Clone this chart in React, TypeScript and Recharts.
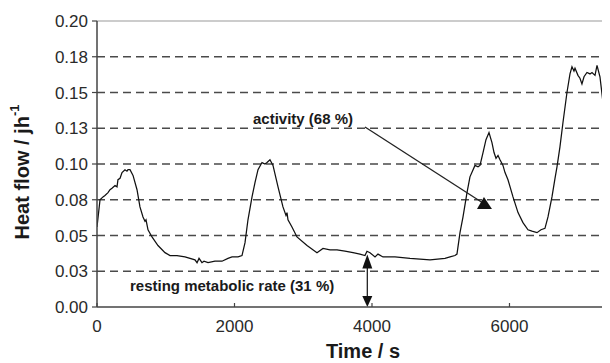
import React from "react";
import { LineChart, Line, XAxis, YAxis, ReferenceLine, ReferenceDot } from "recharts";

const times = [0,44,87,116,160,189,218,262,291,305,335,364,407,436,451,480,524,582,625,669,698,713,742,800,887,989,1062,1164,1280,1425,1455,1484,1527,1556,1615,1716,1818,1905,1964,2051,2109,2153,2196,2255,2298,2342,2400,2444,2473,2516,2560,2633,2705,2749,2764,2778,2836,2909,3055,3200,3287,3389,3491,3607,3724,3825,3898,3927,3971,4044,4087,4160,4335,4553,4844,5062,5135,5207,5236,5280,5324,5382,5425,5498,5542,5571,5615,5658,5702,5745,5775,5804,5833,5862,5905,5935,5978,6051,6124,6196,6269,6327,6400,6458,6516,6560,6618,6662,6691,6734,6778,6836,6880,6909,6938,6953,6996,7025,7054,7084,7127,7171,7200,7244,7273,7316,7360,7404,7433,7462];
const heatFlow = [0.056,0.075,0.077,0.078,0.080,0.082,0.083,0.085,0.084,0.089,0.090,0.094,0.096,0.095,0.096,0.096,0.092,0.082,0.070,0.063,0.060,0.061,0.054,0.049,0.043,0.038,0.036,0.036,0.035,0.033,0.031,0.034,0.031,0.032,0.031,0.032,0.032,0.034,0.035,0.035,0.036,0.045,0.061,0.077,0.087,0.096,0.101,0.100,0.101,0.103,0.099,0.084,0.070,0.064,0.066,0.061,0.056,0.049,0.043,0.038,0.041,0.040,0.040,0.039,0.038,0.037,0.036,0.039,0.038,0.035,0.037,0.035,0.035,0.034,0.033,0.034,0.035,0.036,0.037,0.052,0.063,0.080,0.091,0.099,0.098,0.099,0.108,0.117,0.122,0.115,0.108,0.104,0.106,0.103,0.099,0.094,0.089,0.077,0.066,0.059,0.054,0.053,0.052,0.054,0.055,0.063,0.077,0.090,0.098,0.112,0.129,0.150,0.163,0.168,0.165,0.167,0.162,0.160,0.156,0.161,0.164,0.163,0.164,0.162,0.169,0.161,0.143,0.133,0.131,0.136];

const xTicks = [0, 2000, 4000, 6000];
const yTicks = [0, 0.025, 0.05, 0.075, 0.1, 0.125, 0.15, 0.175, 0.2];
const yTickLabels = ["0.00", "0.03", "0.05", "0.08", "0.10", "0.13", "0.15", "0.18", "0.20"];
const gridValues = [0.025, 0.05, 0.075, 0.1, 0.125, 0.15, 0.175];
const xMax = 7462;

const activityText = "activity (68 %)";
const activityTextPos = { t: 2269, v: 0.128 };
const activityArrow = { t1: 3898, v1: 0.1259, t2: 5614, v2: 0.0727 };
const restingText = "resting metabolic rate (31 %)";
const restingTextPos = { t: 480, v: 0.0112 };
const restingArrow = { t: 3932, vLow: 0, vHigh: 0.0367 };

const data = times.map((t, i) => ({ t, v: heatFlow[i] }));

const FONT = "'Liberation Sans', Arial, sans-serif";

const XTick = (props: any) => {
  const { x, y, payload } = props;
  const axisY = y - 13;
  return (
    <g>
      <line x1={x} y1={axisY - 4} x2={x} y2={axisY} stroke="#444" strokeWidth={1.2} />
      <text x={x} y={y} dy="0.71em" textAnchor="middle" fontSize={17} fontFamily={FONT} fill="#2a2a2a">
        {payload.value}
      </text>
    </g>
  );
};

const YTitle = (props: any) => {
  const vb = props.viewBox || { x: 0, y: 13, width: 89, height: 286 };
  const cx = vb.x + 14;
  const cy = vb.y + vb.height / 2 + 8;
  return (
    <text
      x={cx}
      y={cy}
      transform={`rotate(-90 ${cx} ${cy})`}
      textAnchor="middle"
      dominantBaseline="central"
      fontSize={20}
      fontWeight="bold"
      fontFamily={FONT}
      fill="#1a1a1a"
    >
      Heat flow / jh<tspan fontSize={13} dy={-8}>-1</tspan>
    </text>
  );
};

const XTitle = (props: any) => {
  const vb = props.viewBox || { x: 89, y: 299, width: 513, height: 56 };
  return (
    <text
      x={vb.x + 266}
      y={vb.y + 44}
      textAnchor="middle"
      dominantBaseline="central"
      fontSize={20}
      fontWeight="bold"
      fontFamily={FONT}
      fill="#1a1a1a"
    >
      Time / s
    </text>
  );
};

const makeTextShape = (label: string) => (props: any) => (
  <text x={props.cx} y={props.cy} fontSize={15} fontWeight="bold" fontFamily={FONT} fill="#1a1a1a">
    {label}
  </text>
);

const ActivityArrowShape = (props: any) => {
  const { x1, y1, x2, y2 } = props;
  return (
    <g>
      <line x1={x1} y1={y1} x2={x2} y2={y2} stroke="#222" strokeWidth={1.3} />
      <polygon
        points={`${x2 + 1},${y2 - 6} ${x2 - 6},${y2 + 6} ${x2 + 9},${y2 + 6}`}
        fill="#111"
      />
    </g>
  );
};

const DoubleArrowShape = (props: any) => {
  const { x1, y1, x2, y2 } = props;
  const top = Math.min(y1, y2);
  const bottom = Math.max(y1, y2);
  const x = x1;
  return (
    <g>
      <line x1={x} y1={top + 8} x2={x} y2={bottom - 8} stroke="#222" strokeWidth={1.3} />
      <polygon points={`${x},${top} ${x - 5},${top + 14} ${x + 5},${top + 14}`} fill="#111" />
      <polygon points={`${x},${bottom} ${x - 5},${bottom - 11} ${x + 5},${bottom - 11}`} fill="#111" />
    </g>
  );
};

export default function App() {
  return (
    <LineChart width={602} height={355} data={data} margin={{ top: 13, right: 0, bottom: 0, left: 0 }}>
      {gridValues.map((g) => (
        <ReferenceLine key={g} y={g} stroke="#4a4a4a" strokeWidth={1.4} strokeDasharray="8 5" ifOverflow="visible" />
      ))}
      <ReferenceLine y={0.2} stroke="#9a9a9a" strokeWidth={1.2} />
      <XAxis
        dataKey="t"
        type="number"
        domain={[0, xMax]}
        ticks={xTicks}
        height={56}
        tickSize={0}
        tickMargin={13}
        tick={<XTick />}
        tickLine={false}
        axisLine={{ stroke: "#444", strokeWidth: 1.5 }}
        allowDataOverflow
        label={<XTitle />}
      />
      <YAxis
        type="number"
        domain={[0, 0.2]}
        ticks={yTicks}
        width={89}
        tickSize={5}
        tickMargin={4}
        interval={0}
        tickFormatter={(v: number) => {
          const i = yTicks.findIndex((y) => Math.abs(y - v) < 1e-9);
          return i >= 0 ? yTickLabels[i] : String(v);
        }}
        tick={{ fontSize: 17, fontFamily: FONT, fill: "#2a2a2a" }}
        tickLine={{ stroke: "#444", strokeWidth: 1.2 }}
        axisLine={{ stroke: "#444", strokeWidth: 1.5 }}
        label={<YTitle />}
      />
      <Line
        type="linear"
        dataKey="v"
        stroke="#111"
        strokeWidth={1.25}
        dot={false}
        isAnimationActive={false}
      />
      <ReferenceLine
        segment={[
          { x: activityArrow.t1, y: activityArrow.v1 },
          { x: activityArrow.t2, y: activityArrow.v2 },
        ]}
        shape={<ActivityArrowShape />}
        ifOverflow="visible"
      />
      <ReferenceLine
        segment={[
          { x: restingArrow.t, y: restingArrow.vHigh },
          { x: restingArrow.t, y: restingArrow.vLow },
        ]}
        shape={<DoubleArrowShape />}
        ifOverflow="visible"
      />
      <ReferenceDot
        x={activityTextPos.t}
        y={activityTextPos.v}
        ifOverflow="visible"
        shape={makeTextShape(activityText)}
      />
      <ReferenceDot
        x={restingTextPos.t}
        y={restingTextPos.v}
        ifOverflow="visible"
        shape={makeTextShape(restingText)}
      />
    </LineChart>
  );
}
